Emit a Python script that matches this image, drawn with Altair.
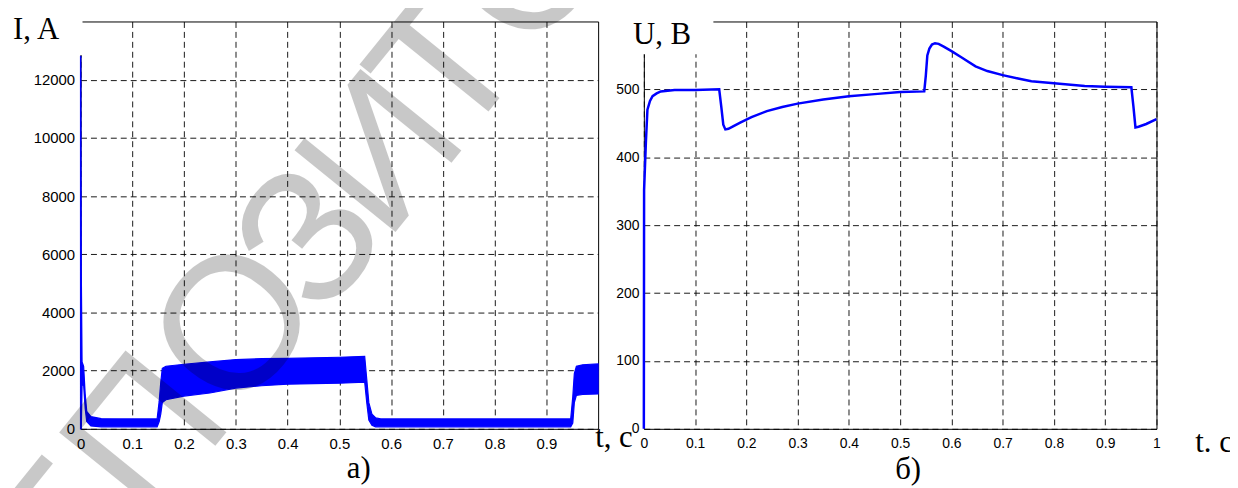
import altair as alt
import pandas as pd

# ---------------- data ----------------
# Panel a) current envelope (upper / lower edge of the ripple band)
t_i = [0.0, 0.0006, 0.0015, 0.003, 0.006, 0.009, 0.012, 0.02, 0.04, 0.08, 0.12, 0.148,
       0.152, 0.155, 0.158, 0.165, 0.2, 0.25, 0.3, 0.35, 0.4, 0.45, 0.5, 0.549,
       0.553, 0.557, 0.563, 0.57, 0.58, 0.6, 0.7, 0.8, 0.9, 0.947,
       0.951, 0.954, 0.958, 0.97, 0.985, 1.0]
i_hi = [12800, 12800, 5400, 2300, 2150, 1200, 600, 420, 350, 340, 340, 340,
        950, 1600, 2080, 2150, 2220, 2300, 2380, 2410, 2420, 2440, 2460, 2490,
        1700, 900, 500, 380, 340, 340, 340, 340, 340, 340,
        1100, 1900, 2150, 2200, 2220, 2230]
i_lo = [0, 0, 0, 1500, 1500, 700, 250, 100, 70, 70, 70, 70,
        250, 500, 900, 1000, 1125, 1230, 1400, 1480, 1535, 1550, 1570, 1600,
        900, 300, 120, 70, 70, 70, 70, 70, 70, 70,
        200, 900, 1150, 1180, 1190, 1200]

# Panel б) voltage
t_u = [0.0, 0.0005, 0.004, 0.007, 0.012, 0.017, 0.025, 0.033, 0.06, 0.1, 0.147, 0.151,
       0.155, 0.159, 0.165, 0.175, 0.188, 0.21, 0.24, 0.27, 0.3, 0.35, 0.4, 0.45, 0.5,
       0.547, 0.550, 0.553, 0.557, 0.562, 0.568, 0.575, 0.585, 0.601, 0.62, 0.647,
       0.67, 0.70, 0.73, 0.756, 0.80, 0.86, 0.90,
       0.951, 0.955, 0.959, 0.965, 0.98, 1.0]
u_val = [0, 352, 422, 470, 483, 490, 494, 497, 499, 499, 500, 475,
         448, 441, 442, 446, 451, 459, 468, 474, 479, 485, 490, 493, 496,
         497, 520, 550, 560, 566, 568, 567, 563, 556, 547, 534,
         527, 521, 516, 512, 509, 505, 504,
         503, 475, 444, 445, 449, 456]

x_ticks_a = [0, 0.1, 0.2, 0.3, 0.4, 0.5, 0.6, 0.7, 0.8, 0.9]
x_ticks_b = [0, 0.1, 0.2, 0.3, 0.4, 0.5, 0.6, 0.7, 0.8, 0.9, 1]
y_ticks_a = [0, 2000, 4000, 6000, 8000, 10000, 12000]
y_ticks_b = [0, 100, 200, 300, 400, 500]

labels_a = ["I, A", "t, c", "а)"]
labels_b = ["U, B", "t. c", "б)"]
watermark_letters = ["Е", "П", "О", "З", "И", "Т", "О", "Р"]

BLUE = "#0000ff"
SERIF = "Liberation Serif"
SANS = "Liberation Sans"

W_A, W_B, H = 521, 516, 410

df_i = pd.DataFrame({"t": t_i, "hi": i_hi, "lo": i_lo})
df_u = pd.DataFrame({"t": t_u, "u": u_val})
one = pd.DataFrame({"k": [0]})


def axis(values, fmt, size, pad):
    return alt.Axis(values=values, format=fmt, grid=True, gridDash=[6, 4],
                    gridColor="#000000", gridOpacity=0.9, gridWidth=1,
                    ticks=False, tickSize=0, domain=False, title=None,
                    labelFont=SANS, labelFontSize=size, labelColor="#000000",
                    labelPadding=pad, labelFlush=False, labelOverlap=False)


def box(x1, x2, y1, y2, opacity=1):
    return alt.Chart(one).mark_rect(color="white", opacity=opacity).encode(
        x=alt.value(x1), x2=alt.value(x2), y=alt.value(y1), y2=alt.value(y2))


def label(text, x, y, align="left", size=31):
    return alt.Chart(pd.DataFrame({"s": [text]})).mark_text(
        font=SERIF, fontSize=size, color="#000000", align=align,
        baseline="alphabetic").encode(x=alt.value(x), y=alt.value(y), text="s:N")


def wm_letter(ch, x, y):
    return alt.Chart(pd.DataFrame({"s": [ch]})).mark_text(
        font=SANS, fontSize=190, color="#000000", opacity=0.21, angle=309,
        align="center", baseline="middle").encode(
        x=alt.value(x), y=alt.value(y), text="s:N")


# watermark letter anchors (relative to the left plot area), placed along the diagonal
wm_pos = [(-14, 522), (69, 419), (159, 308), (234, 221), (306, 135),
          (372, 48), (455, -55), (541, -161)]

# ---------------- panel a) ----------------
band = alt.Chart(df_i).mark_area(color=BLUE, stroke=BLUE, strokeWidth=1.2, opacity=1).encode(
    x=alt.X("t:Q", scale=alt.Scale(domain=[0, 1], nice=False, zero=False),
            axis=axis(x_ticks_a, "~g", 15, 8)),
    y=alt.Y("hi:Q", scale=alt.Scale(domain=[0, 14000], nice=False),
            axis=axis(y_ticks_a, "d", 15, 6)),
    y2="lo:Q",
)

layers_a = [
    band,
    box(-80, 2, -20, 34),
    label(labels_a[0], -68, 18),
    label(labels_a[1], 518, 428),
    label(labels_a[2], 280, 460, align="center"),
]
layers_a += [wm_letter(c, p[0], p[1]) for c, p in zip(watermark_letters, wm_pos)]
layers_a.append(box(-400, -399, -700, 1000, opacity=0))   # fixed invisible extent

panel_a = alt.layer(*layers_a).properties(width=W_A, height=H)

# ---------------- panel б) ----------------
uline = alt.Chart(df_u).mark_line(color=BLUE, strokeWidth=2.5).encode(
    x=alt.X("t:Q", scale=alt.Scale(domain=[0, 1], nice=False, zero=False),
            axis=axis(x_ticks_b, "~g", 14, 8)),
    y=alt.Y("u:Q", scale=alt.Scale(domain=[0, 600], nice=False),
            axis=axis(y_ticks_b, "d", 14, 5)),
)

panel_b = alt.layer(
    uline,
    box(-40, 70, -25, 33),
    label(labels_b[0], -11, 23),
    label(labels_b[1], 555, 433),
    label(labels_b[2], 253, 461),
    box(594, 595, 0, 1, opacity=0),           # fixed invisible extent
).properties(width=W_B, height=H)

chart = alt.hconcat(panel_a, panel_b, spacing=46, bounds="flush").properties(
    padding={"left": -328, "top": -689, "right": -6, "bottom": -533},
    background="white",
).configure_view(stroke="#000000", strokeWidth=1)

chart.save("out.html", embed_options={"renderer": "svg", "actions": False})
